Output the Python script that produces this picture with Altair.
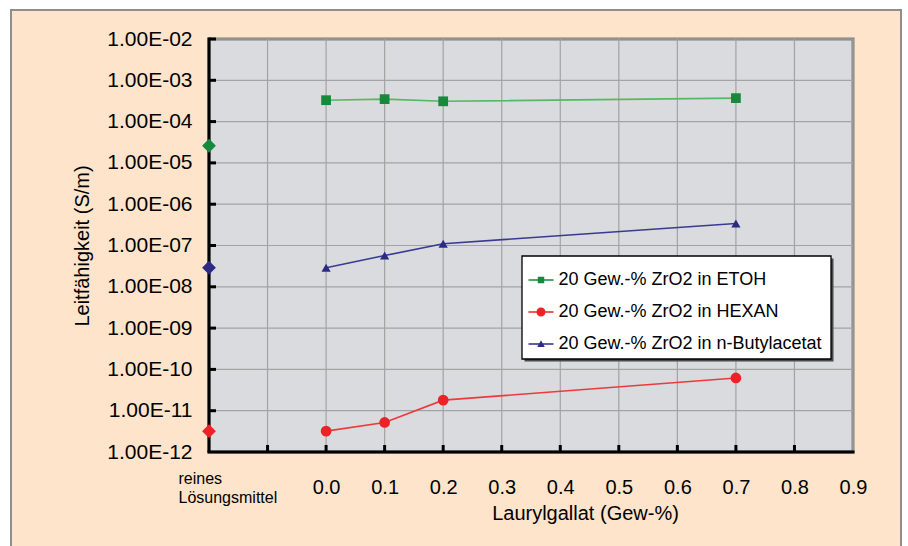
import altair as alt
import pandas as pd

# --- data ---------------------------------------------------------------
series = [
    "20 Gew.-% ZrO2 in ETOH",
    "20 Gew.-% ZrO2 in HEXAN",
    "20 Gew.-% ZrO2 in n-Butylacetat",
]
laurylgallat = [0.0, 0.1, 0.2, 0.7]
etoh = [3.3e-4, 3.5e-4, 3.1e-4, 3.7e-4]
hexan = [3.2e-12, 5.2e-12, 1.8e-11, 6.2e-11]
butylacetat = [2.9e-8, 5.7e-8, 1.1e-7, 3.4e-7]
# conductivity of the pure solvents (no ZrO2 / no Laurylgallat)
pure_solvent = [2.6e-5, 3.2e-12, 2.9e-8]

solvent_pos = -0.2  # x position of the "reines Lösungsmittel" category
x_grid = [-0.1, 0.0, 0.1, 0.2, 0.3, 0.4, 0.5, 0.6, 0.7, 0.8, 0.9]
x_label_values = [-0.2, 0.0, 0.1, 0.2, 0.3, 0.4, 0.5, 0.6, 0.7, 0.8, 0.9]
decades = [1e-12, 1e-11, 1e-10, 1e-9, 1e-8, 1e-7, 1e-6, 1e-5, 1e-4, 1e-3, 1e-2]

# --- styles -------------------------------------------------------------
marker_colors = ["#168A3A", "#EC2227", "#2B2B83"]
line_colors = ["#55B865", "#EC3A3D", "#3A3A92"]
marker_shapes = ["square", "circle", "triangle-up"]
marker_sizes = [95, 115, 85]
legend_symbols = [
    "M-1,-0.06H1V0.06H-1Z M-0.26,-0.26H0.26V0.26H-0.26Z",
    "M-1,-0.06H1V0.06H-1Z M-0.36,0A0.36,0.36,0,1,1,0.36,0A0.36,0.36,0,1,1,-0.36,0Z",
    "M-1,-0.06H1V0.06H-1Z M0,-0.3L0.3,0.24H-0.3Z",
]
PEACH = "#FDE4CB"
PLOT_BG = "#DADBDE"
GRID = "#A3A3A3"
FONT = "Liberation Sans"
W, H = 644, 413

rows = []
for s, vals in zip(series, [etoh, hexan, butylacetat]):
    for x, y in zip(laurylgallat, vals):
        rows.append({"series": s, "x": x, "y": y})
df = pd.DataFrame(rows)
solvent_df = pd.DataFrame({"series": series, "x": [solvent_pos] * 3, "y": pure_solvent})
one = pd.DataFrame({"a": [0]})

# --- scales and axes ----------------------------------------------------
xs = alt.Scale(domain=[-0.2, 0.9], nice=False, zero=False)
ys = alt.Scale(type="log", domain=[1e-12, 1e-2], nice=False)

is_solvent = "datum.value < -0.15"
x_axis = alt.Axis(
    values=x_label_values,
    labelExpr=f"{is_solvent} ? ['reines', 'Lösungsmittel'] : format(datum.value, '.1f')",
    labelAlign={"condition": {"test": is_solvent, "value": "left"}, "value": "center"},
    labelOffset={"condition": {"test": is_solvent, "value": -31}, "value": 0},
    labelFontSize={"condition": {"test": is_solvent, "value": 16}, "value": 20},
    labelPadding={"condition": {"test": is_solvent, "value": 18}, "value": 25},
    labelBaseline="top",
    labelLineHeight=19,
    labelColor="black",
    labelFont=FONT,
    labelOverlap=False,
    labelFlush=False,
    domain=False,
    ticks=False,
    grid=False,
    title="Laurylgallat (Gew-%)",
    titleFont=FONT,
    titleFontSize=20,
    titleFontWeight="normal",
    titleColor="black",
    titleX=376,
    titleY=67.5,
    titleBaseline="alphabetic",
    titleAlign="center",
    zindex=1,
)
y_axis = alt.Axis(
    values=decades,
    labelExpr="'1.00E-' + (round(-log(datum.value) / LN10) < 10 ? '0' : '') + round(-log(datum.value) / LN10)",
    labelFontSize=21,
    labelPadding=17,
    labelColor="black",
    labelFont=FONT,
    labelOverlap=False,
    labelFlush=False,
    domain=False,
    ticks=False,
    grid=False,
    title="Leitfähigkeit (S/m)",
    titleFont=FONT,
    titleFontSize=20,
    titleFontWeight="normal",
    titleColor="black",
    titleX=-127,
    titleY=206.5,
    titleAngle=270,
    titleBaseline="middle",
    titleAlign="center",
    zindex=1,
)

def X(field="x"):
    return alt.X(f"{field}:Q", scale=xs, axis=x_axis)

def Y(field="y"):
    return alt.Y(f"{field}:Q", scale=ys, axis=y_axis)

# --- layers -------------------------------------------------------------
frame = alt.Chart(one).mark_rect(fill=PEACH, stroke="#8E8E8E", strokeWidth=2).encode(
    x=alt.value(-198), x2=alt.value(692), y=alt.value(-29), y2=alt.value(H + 120)
)
plot_bg = alt.Chart(one).mark_rect(fill=PLOT_BG, stroke="#7F7F7F", strokeWidth=3).encode(
    x=alt.value(0), x2=alt.value(W), y=alt.value(0), y2=alt.value(H)
)
vgrid = alt.Chart(pd.DataFrame({"v": x_grid})).mark_rule(color=GRID, strokeWidth=1.2).encode(x=X("v"))
hgrid = alt.Chart(pd.DataFrame({"v": decades})).mark_rule(color=GRID, strokeWidth=1.2).encode(y=Y("v"))
xticks = alt.Chart(pd.DataFrame({"v": x_grid[:-1]})).mark_rule(color="black", strokeWidth=3).encode(
    x=X("v"), y=alt.value(H - 7), y2=alt.value(H)
)
yticks = alt.Chart(pd.DataFrame({"v": decades[1:]})).mark_rule(color="black", strokeWidth=3).encode(
    y=Y("v"), x=alt.value(0), x2=alt.value(7)
)
left_axis = alt.Chart(one).mark_rule(color="black", strokeWidth=3).encode(
    x=alt.value(0), y=alt.value(-1.5), y2=alt.value(H)
)
bottom_axis = alt.Chart(one).mark_rule(color="black", strokeWidth=3).encode(
    y=alt.value(H), x=alt.value(-1.5), x2=alt.value(W + 1.5)
)

series_layers = []
for s, lc, mc, sh, sz in zip(series, line_colors, marker_colors, marker_shapes, marker_sizes):
    sub = df[df["series"] == s]
    series_layers.append(
        alt.Chart(sub).mark_line(color=lc, strokeWidth=1.6).encode(x=X(), y=Y())
    )
    series_layers.append(
        alt.Chart(sub).mark_point(filled=True, shape=sh, size=sz, color=mc, opacity=1).encode(x=X(), y=Y())
    )
    series_layers.append(
        alt.Chart(solvent_df[solvent_df["series"] == s])
        .mark_point(filled=True, shape="diamond", size=190, color=mc, opacity=1)
        .encode(x=X(), y=Y())
    )

# legend box (white panel with a drop shadow) and the legend entries on top
box_x, box_y, box_w, box_h = 313, 217, 309, 103
legend_shadow = alt.Chart(one).mark_rect(fill="#4A4A4A").encode(
    x=alt.value(box_x + 2.5), x2=alt.value(box_x + box_w + 2.5),
    y=alt.value(box_y + 2.5), y2=alt.value(box_y + box_h + 2.5),
)
legend_box = alt.Chart(one).mark_rect(fill="white", stroke="black", strokeWidth=1.3).encode(
    x=alt.value(box_x), x2=alt.value(box_x + box_w),
    y=alt.value(box_y), y2=alt.value(box_y + box_h),
)
legend = alt.Legend(
    title=None,
    orient="none",
    legendX=box_x,
    legendY=box_y + 5,
    padding=6.5,
    rowPadding=10,
    labelOffset=5,
    labelFont=FONT,
    labelFontSize=18,
    labelColor="black",
    labelLimit=400,
    symbolSize=625,
    symbolStrokeWidth=0,
    symbolOpacity=1,
)
legend_layer = (
    alt.Chart(df)
    .transform_filter("false")
    .mark_point(filled=True)
    .encode(
        x=X(),
        y=Y(),
        color=alt.Color("series:N", scale=alt.Scale(domain=series, range=marker_colors), legend=legend),
        shape=alt.Shape("series:N", scale=alt.Scale(domain=series, range=legend_symbols), legend=legend),
    )
)

chart = (
    alt.layer(
        frame, plot_bg, vgrid, hgrid, xticks, yticks, left_axis, bottom_axis,
        *series_layers, legend_shadow, legend_box, legend_layer,
    )
    .properties(
        width=W,
        height=H,
        padding={"left": 209, "top": 39, "right": 55, "bottom": 94},
        autosize=alt.AutoSizeParams(type="none"),
    )
    .configure(background="white", font=FONT)
    .configure_view(stroke="transparent")
)

chart.save("out.html", embed_options={"renderer": "svg", "actions": False})
